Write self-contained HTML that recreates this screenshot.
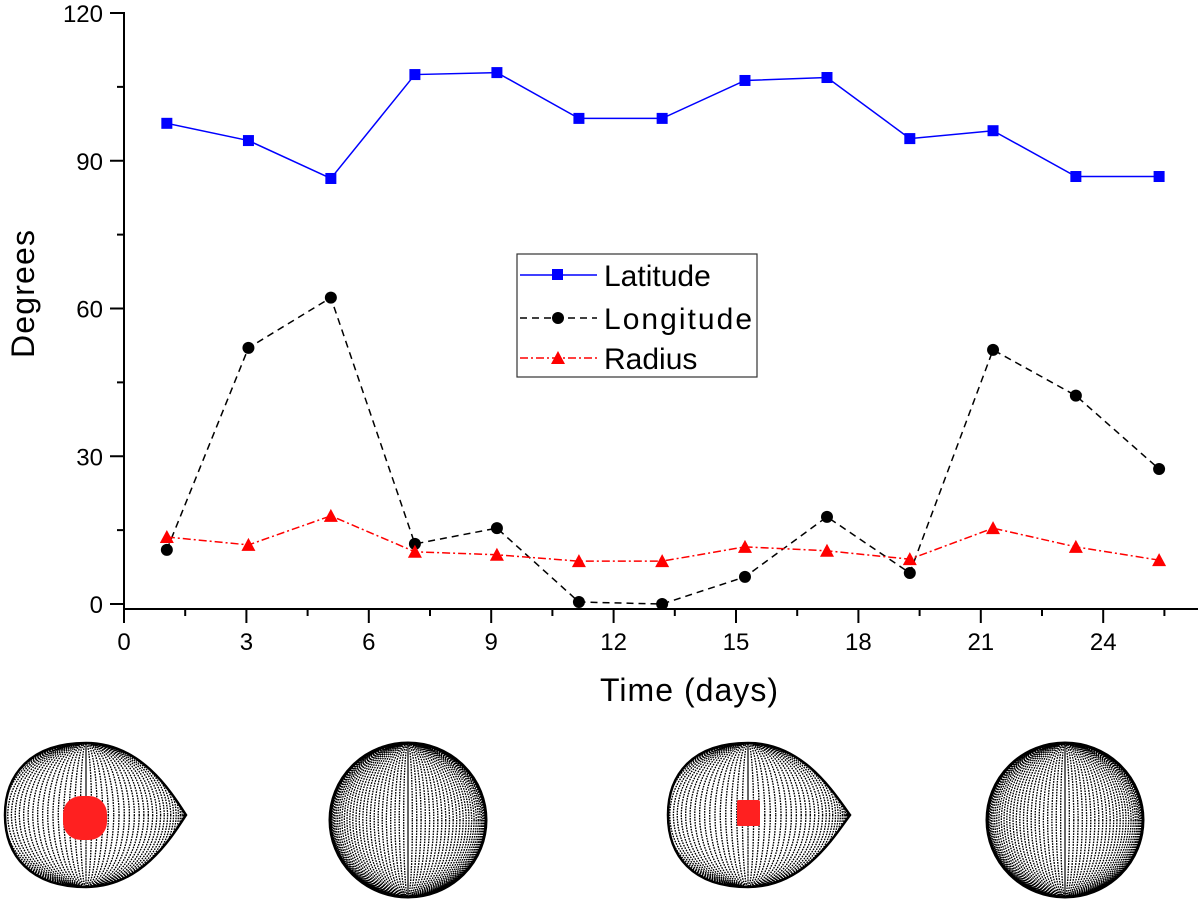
<!DOCTYPE html>
<html><head><meta charset="utf-8"><style>
html,body{margin:0;padding:0;background:#fff;}
svg text{font-family:"Liberation Sans",Arial,sans-serif;}
</style></head><body>
<svg id="chart" width="1200" height="899" viewBox="0 0 1200 899" xmlns="http://www.w3.org/2000/svg">
<defs>
<clipPath id="tear1"><path d="M86,743 C140,743 170,790 186,815 C170,840 140,887 86,887 C30,887 5,855 5,815 C5,775 30,743 86,743 Z"/></clipPath>
<clipPath id="tear3"><path d="M748,743 C802,743 832,790 850,815 C832,840 802,887 748,887 C692,887 668,855 668,815 C668,775 692,743 748,743 Z"/></clipPath>
</defs>
<g id="axes"></g>
<g id="series"></g>
<g id="legend">
<rect x="517" y="254" width="240" height="123" fill="#fff" stroke="#333" stroke-width="1.2"/>
<g>
<line x1="520" y1="275" x2="597" y2="275" stroke="#0000ff" stroke-width="1.5"/>
<rect x="552" y="269" width="11" height="11" fill="#0000ff"/>
<text x="604" y="286" font-size="30">Latitude</text></g>
<g>
<line x1="520" y1="318" x2="597" y2="318" stroke="#000" stroke-width="1.5" stroke-dasharray="7,5"/>
<circle cx="558" cy="318" r="6" fill="#000"/>
<text x="604" y="329" font-size="30" textLength="148">Longitude</text></g>
<g>
<line x1="520" y1="358" x2="597" y2="358" stroke="#ff0000" stroke-width="1.5" stroke-dasharray="8,3,2,3"/>
<polygon points="558,351 565,364 551,364" fill="#ff0000"/>
<text x="604" y="369" font-size="30">Radius</text></g>
</g>
<g id="spheres"></g>
</svg>
<script>
const xTicks=[0,3,6,9,12,15,18,21,24];
const yTicks=[0,30,60,90,120];
const days=[1.05,3.05,5.07,7.13,9.14,11.15,13.19,15.22,17.23,19.26,21.3,23.33,25.37];
const latitude=[97.6,94.1,86.4,107.5,107.9,98.6,98.6,106.3,106.9,94.5,96.1,86.8,86.8];
const longitude=[11.0,52.0,62.2,12.2,15.4,0.4,0,5.5,17.7,6.3,51.6,42.3,27.4];
const radius=[13.6,12.0,17.9,10.6,10.0,8.7,8.7,11.6,10.8,9.1,15.4,11.6,8.9];
const NS="http://www.w3.org/2000/svg";
const X=v=>124+v*40.8, Y=v=>604-v*4.925;
function mk(tag,attrs,parent){const e=document.createElementNS(NS,tag);for(const k in attrs)e.setAttribute(k,attrs[k]);parent.appendChild(e);return e;}
const ax=document.getElementById('axes');
let l=mk('line',{x1:124,y1:12,x2:124,y2:609,stroke:'#000','stroke-width':2},ax);


l=mk('line',{x1:123,y1:609,x2:1198,y2:609,stroke:'#000','stroke-width':2},ax);


for(let v=0;v<=25.5;v+=1.5){const major=xTicks.includes(v);mk('line',{x1:X(v),y1:609,x2:X(v),y2:major?623:616,stroke:'#000','stroke-width':2},ax);}
xTicks.forEach(v=>{const t=mk('text',{x:X(v),y:650,'font-size':24,'text-anchor':'middle'},ax);t.textContent=v;

});
for(let v=0;v<=120;v+=15){const major=yTicks.includes(v);mk('line',{x1:major?110:117,y1:Y(v),x2:124,y2:Y(v),stroke:'#000','stroke-width':2},ax);}
yTicks.forEach(v=>{const t=mk('text',{x:103,y:Y(v)+9,'font-size':24,'text-anchor':'end'},ax);t.textContent=v;

});
let t=mk('text',{x:689,y:701,'font-size':32,'text-anchor':'middle',textLength:178},ax);t.textContent='Time (days)';


t=mk('text',{x:0,y:0,'font-size':32,'text-anchor':'middle',textLength:128,transform:'translate(34,294) rotate(-90)'},ax);t.textContent='Degrees';


const sg=document.getElementById('series');
function series(vals,color,dash,marker,name){
  const g=mk('g',{},sg);
  
  
  mk('polyline',{points:vals.map((v,i)=>X(days[i])+','+Y(v)).join(' '),fill:'none',stroke:color,'stroke-width':1.5,'stroke-dasharray':dash},g);
  vals.forEach((v,i)=>{const x=X(days[i]),y=Y(v);let m;
    if(marker==='sq')m=mk('rect',{x:x-5.5,y:y-5.5,width:11,height:11,fill:color},g);
    else if(marker==='c')m=mk('circle',{cx:x,cy:y,r:6,fill:color},g);
    else m=mk('polygon',{points:`${x},${y-7} ${x+7},${y+6} ${x-7},${y+6}`,fill:color},g);
    
    });
}
series(latitude,'#0000ff','none','sq','latitude-series');
series(longitude,'#000','7,5','c','longitude-series');
series(radius,'#ff0000','8,3,2,3','t','radius-series');
const sp=document.getElementById('spheres');
function sphere(cx,cy,rx,ry,clip,spot,name){
  const g=mk('g',clip?{'clip-path':'url(#'+clip+')'}:{},sp);
  
  
  const W=clip?100:rx;
  for(let k=0;k<=56;k++){const a=Math.PI*k/56;const r=Math.abs(Math.cos(a))*(W);
    mk('ellipse',{cx:cx,cy:cy,rx:r,ry:ry,fill:'none',stroke:'#000','stroke-width':1.2,'stroke-dasharray':'1.5,1.2'},g);}
  mk('ellipse',{cx:cx,cy:cy,rx:rx,ry:ry,fill:'none',stroke:'#000','stroke-width':clip?0:3},g);
  if(spot){const s=mk('rect',{x:spot[0],y:spot[1],width:spot[2],height:spot[3],rx:spot[4],fill:'#ff2020'},g);
    
    }
}
sphere(86,815,82,72,'tear1',[63,796,44,44,18],'star-map-1');
sphere(408,820,78,77,null,null,'star-map-2');
sphere(748,815,82,72,'tear3',[737,800,23,26,2],'star-map-3');
sphere(1065,820,78,77,null,null,'star-map-4');
mk('path',{d:'M86,743 C140,743 170,790 186,815 C170,840 140,887 86,887 C30,887 5,855 5,815 C5,775 30,743 86,743 Z',fill:'none',stroke:'#000','stroke-width':2.5},sp);
mk('path',{d:'M748,743 C802,743 832,790 850,815 C832,840 802,887 748,887 C692,887 668,855 668,815 C668,775 692,743 748,743 Z',fill:'none',stroke:'#000','stroke-width':2.5},sp);
</script>
</body></html>
